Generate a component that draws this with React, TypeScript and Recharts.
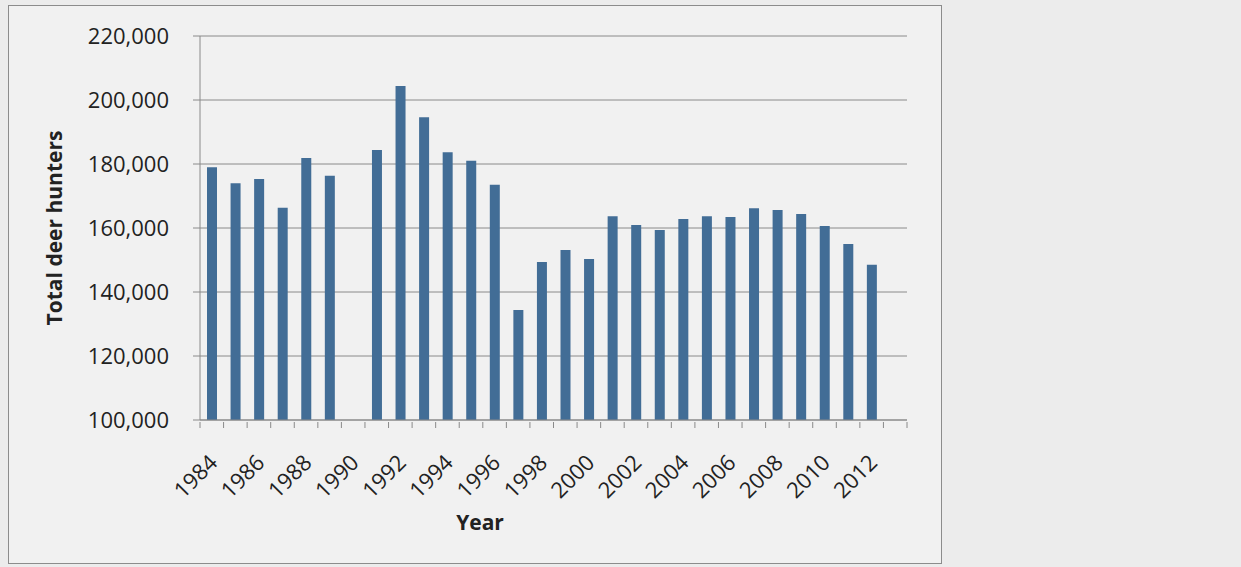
import React from 'react';
import { BarChart, Bar, XAxis, YAxis, CartesianGrid, Label } from 'recharts';

const years = [
  '1984', '1985', '1986', '1987', '1988', '1989', '1990', '1991', '1992', '1993',
  '1994', '1995', '1996', '1997', '1998', '1999', '2000', '2001', '2002', '2003',
  '2004', '2005', '2006', '2007', '2008', '2009', '2010', '2011', '2012', '2013',
];

// no value shown for 1990 and 2013
const hunters = [
  179000, 174000, 175300, 166300, 181900, 176300, null, 184400, 204400, 194600,
  183700, 181000, 173500, 134400, 149400, 153100, 150300, 163700, 160900, 159400,
  162800, 163700, 163400, 166200, 165600, 164400, 160600, 155000, 148500, null,
];

const yTicks = [100000, 120000, 140000, 160000, 180000, 200000, 220000];

const data = years.map((year, i) => ({ year, hunters: hunters[i] }));

const FONT = '"Open Sans", sans-serif';
const AXIS_GRAY = '#8a8a8a';

const YearTick = (props: any) => {
  const { x, y, payload, index } = props;
  const half = payload && payload.offset ? payload.offset : 11.8;
  const showLabel = Number(payload.value) % 2 === 0;
  return (
    <g>
      <line x1={x - half} x2={x - half} y1={y} y2={y + 6} stroke={AXIS_GRAY} />
      {index === years.length - 1 && (
        <line x1={x + half} x2={x + half} y1={y} y2={y + 6} stroke={AXIS_GRAY} />
      )}
      {showLabel && (
        <text
          transform={`translate(${x + 7},${y + 42}) rotate(-45)`}
          textAnchor="end"
          fontFamily={FONT}
          fontSize={22}
          fill="#222"
        >
          {payload.value}
        </text>
      )}
    </g>
  );
};

const App: React.FC = () => {
  return (
    <div
      style={{
        position: 'absolute',
        left: 0,
        top: 0,
        width: 1241,
        height: 567,
        background: '#ececec',
        overflow: 'hidden',
      }}
    >
      <div
        style={{
          position: 'absolute',
          left: 8,
          top: 5,
          width: 934,
          height: 559,
          boxSizing: 'border-box',
          border: '1px solid #8c8c8c',
          background: '#f1f1f1',
        }}
      >
        <BarChart
          width={932}
          height={557}
          data={data}
          margin={{ top: 30, right: 34, left: 0, bottom: 0 }}
        >
          <CartesianGrid horizontal vertical={false} stroke={AXIS_GRAY} />
          <XAxis
            dataKey="year"
            interval={0}
            height={143}
            tickSize={0}
            tickLine={false}
            axisLine={{ stroke: AXIS_GRAY }}
            tick={<YearTick />}
          >
            <Label
              content={() => (
                <text x={471} y={524} textAnchor="middle" fontFamily={FONT} fontSize={21} fontWeight="bold" fill="#222">
                  Year
                </text>
              )}
            />
          </XAxis>
          <YAxis
            width={191}
            domain={[100000, 220000]}
            ticks={yTicks}
            interval={0}
            tickSize={7}
            tickMargin={24}
            axisLine={{ stroke: AXIS_GRAY }}
            tickLine={{ stroke: AXIS_GRAY }}
            tick={{ fontFamily: FONT, fontSize: 22, fill: '#222' }}
            tickFormatter={(v: number) => v.toLocaleString('en-US')}
          >
            <Label
              content={() => (
                <text
                  transform="translate(53,222) rotate(-90)"
                  textAnchor="middle"
                  fontFamily={FONT}
                  fontSize={21}
                  fontWeight="bold"
                  fill="#222"
                >
                  Total deer hunters
                </text>
              )}
            />
          </YAxis>
          <Bar dataKey="hunters" fill="#426d96" barSize={10} isAnimationActive={false} />
        </BarChart>
      </div>
    </div>
  );
};

export default App;
